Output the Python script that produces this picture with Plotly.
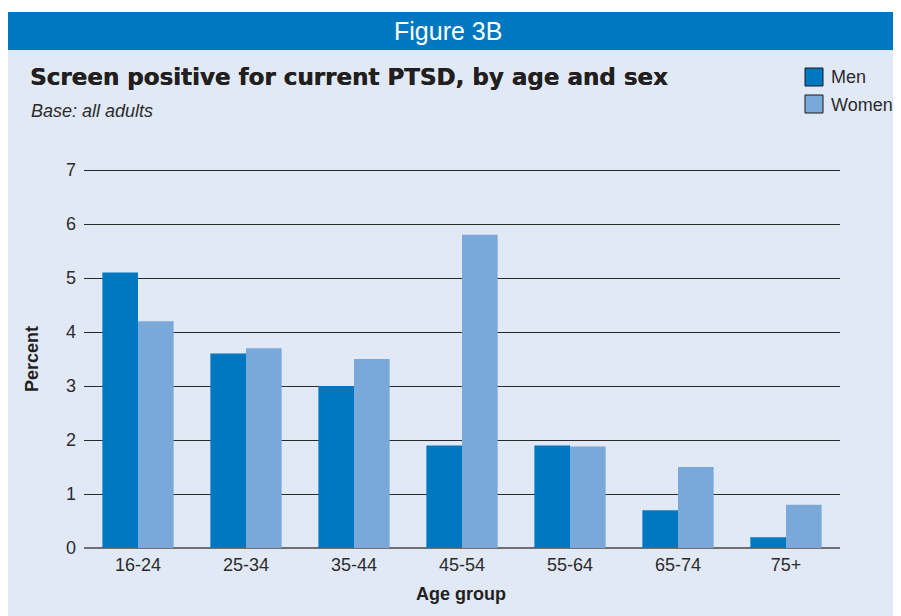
import plotly.graph_objects as go

age_groups = ["16-24", "25-34", "35-44", "45-54", "55-64", "65-74", "75+"]
men = [5.1, 3.6, 3.0, 1.9, 1.9, 0.7, 0.2]
women = [4.2, 3.7, 3.5, 5.8, 1.88, 1.5, 0.8]
y_ticks = [0, 1, 2, 3, 4, 5, 6, 7]
series_names = ["Men", "Women"]

MEN_C = "#0077c1"
WOMEN_C = "#7aa9d9"
PANEL = "#e2e9f6"
TXT = "#2b2b2b"
DARK = "#231f20"
FONT = "Liberation Sans, Arial, sans-serif"

# page is rendered with an 8px body margin: work in page coordinates and convert
OFF = 8
W, H = 901 - 2 * OFF, 616 - OFF
PL, PR, PT, PB = 84, 840, 166, 548          # plot area in page pixels
UNIT = 54.0                                  # pixels per percent
Y_TOP = (PB - PT) / UNIT                     # a little headroom so the 7 gridline is drawn
L, R, T, B = PL - OFF, W - (PR - OFF), PT - OFF, H - (PB - OFF)
pw, ph = W - L - R, H - T - B

def px(x):
    return (x - OFF - L) / pw

def py(y):
    return (H - B - (y - OFF)) / ph

fig = go.Figure()
fig.add_trace(go.Bar(x=age_groups, y=men, name=series_names[0], marker=dict(color=MEN_C, line=dict(width=0))))
fig.add_trace(go.Bar(x=age_groups, y=women, name=series_names[1], marker=dict(color=WOMEN_C, line=dict(width=0))))

shapes = [
    # white top strip
    dict(type="rect", xref="paper", yref="paper", x0=px(0), x1=px(910), y0=py(12), y1=py(0),
         fillcolor="white", line=dict(width=0), layer="below"),
    # header band
    dict(type="rect", xref="paper", yref="paper", x0=px(7), x1=px(910), y0=py(50), y1=py(12),
         fillcolor="#0077c1", line=dict(width=0), layer="below"),
]

annotations = [
    dict(text="Figure 3B", x=px(448), y=py(31), xref="paper", yref="paper", showarrow=False,
         xanchor="center", yanchor="middle", font=dict(family=FONT, size=25, color="white")),
    dict(text="<b>Screen positive for current PTSD, by age and sex</b>", x=px(28), y=py(77), xref="paper", yref="paper",
         showarrow=False, xanchor="left", yanchor="middle",
         font=dict(family="DejaVu Sans, sans-serif", size=23, color=DARK, shadow="0.4px 0 0 #231f20")),
    dict(text="<i>Base: all adults</i>", x=px(29), y=py(111), xref="paper", yref="paper", showarrow=False,
         xanchor="left", yanchor="middle", font=dict(family=FONT, size=18, color=TXT)),
    dict(text="<b>Age group</b>", x=px(461), y=py(594), xref="paper", yref="paper", showarrow=False,
         xanchor="center", yanchor="middle", font=dict(family=FONT, size=18, color=DARK)),
    dict(text="<b>Percent</b>", x=px(32), y=py(359), xref="paper", yref="paper", showarrow=False, textangle=-90,
         xanchor="center", yanchor="middle", font=dict(family=FONT, size=18, color=DARK)),
]

# manual legend (outlined swatches + labels)
legend_colors = [MEN_C, WOMEN_C]
legend_top = [68, 95]
for name, col, top in zip(series_names, legend_colors, legend_top):
    shapes.append(dict(type="rect", xref="paper", yref="paper", x0=px(805), x1=px(823), y0=py(top + 18), y1=py(top),
                       fillcolor=col, line=dict(color="#1a1a1a", width=1)))
    annotations.append(dict(text=name, x=px(829), y=py(top + 9.5), xref="paper", yref="paper", showarrow=False,
                            xanchor="left", yanchor="middle", font=dict(family=FONT, size=18, color=TXT)))

fig.update_layout(
    width=W, height=H, autosize=False,
    margin=dict(l=L, r=R, t=T, b=B, pad=0),
    paper_bgcolor=PANEL, plot_bgcolor=PANEL,
    barmode="group", bargap=0.34, bargroupgap=0,
    font=dict(family=FONT, size=18, color=TXT),
    shapes=shapes, annotations=annotations,
    showlegend=False,
    xaxis=dict(showgrid=False, showline=False, ticks="", ticklabelstandoff=4,
               tickfont=dict(size=18, color=TXT), fixedrange=True),
    yaxis=dict(range=[0, Y_TOP], tickvals=y_ticks, showgrid=True, gridcolor="#2a2a2a", gridwidth=1,
               zeroline=True, zerolinecolor="#707070", zerolinewidth=2, showline=False, ticks="",
               ticklabelstandoff=7, tickfont=dict(size=18, color=TXT), fixedrange=True),
)

fig.write_html("out.html")
